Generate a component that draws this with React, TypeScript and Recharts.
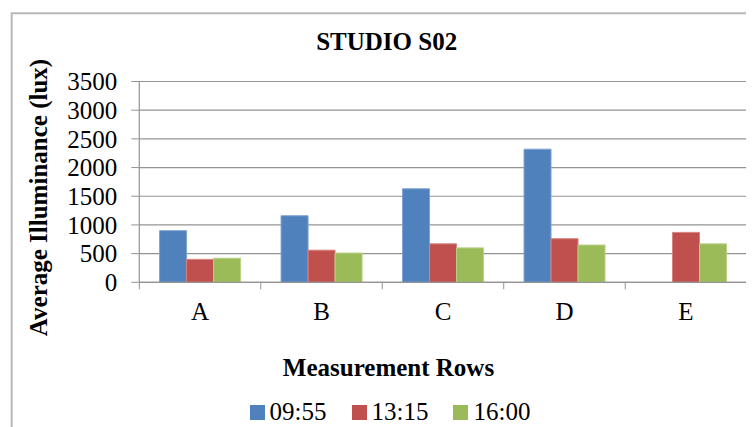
import { Bar, BarChart, CartesianGrid, Legend, XAxis, YAxis } from "recharts"

const rows = ["A", "B", "C", "D", "E"]
const at0955 = [900, 1160, 1630, 2320, null]
const at1315 = [400, 560, 670, 760, 870]
const at1600 = [420, 510, 600, 650, 670]
const yTicks = [0, 500, 1000, 1500, 2000, 2500, 3000, 3500]

const series = [
  { key: "t0955", name: "09:55", color: "#4F81BD", edge: "#7FA3D2" },
  { key: "t1315", name: "13:15", color: "#C0504D", edge: "#D7827F" },
  { key: "t1600", name: "16:00", color: "#9BBB59", edge: "#B9D187" },
]

const data = rows.map((row, i) => ({
  row,
  t0955: at0955[i],
  t1315: at1315[i],
  t1600: at1600[i],
}))

const font = '"Liberation Serif", "Times New Roman", serif'
const axisGrey = "#939393"

// category label in the middle, tick marks on the band edges
const RowTick = (props: any) => {
  const { x, y, payload, index } = props
  const half = payload.offset ?? 0
  const last = index === rows.length - 1
  return (
    <g>
      <line x1={x - half} y1={y} x2={x - half} y2={y + 7} stroke={axisGrey} />
      {last && <line x1={x + half} y1={y} x2={x + half} y2={y + 7} stroke={axisGrey} />}
      <text x={x} y={y + 38} textAnchor="middle" fontSize={25} fill="#000" fontFamily={font}>
        {payload.value}
      </text>
    </g>
  )
}

const LegendRow = ({ payload }: any) => (
  <div
    style={{
      display: "flex",
      justifyContent: "center",
      alignItems: "center",
      gap: 25,
      height: 30,
      fontFamily: font,
      fontSize: 25,
      color: "#000",
    }}
  >
    {(payload ?? []).map((p: any) => (
      <div key={p.value} style={{ display: "flex", alignItems: "center" }}>
        <span style={{ display: "inline-block", width: 15, height: 15, background: p.color, marginRight: 5 }} />
        <span>{p.value}</span>
      </div>
    ))}
  </div>
)

const App = () => {
  return (
    <BarChart
      width={746}
      height={419}
      data={data}
      margin={{ top: 73.5, right: 7.3, bottom: 0, left: 0 }}
      barCategoryGap="16.7%"
      barGap={0}
      style={{ fontFamily: font }}
    >
      <path d="M3.7 419 V5.3 H746" fill="none" stroke="#b8b8b8" strokeWidth={2} />
      <CartesianGrid vertical={false} stroke={axisGrey} strokeWidth={1.2} />
      <XAxis
        dataKey="row"
        height={114.7}
        interval={0}
        tickLine={false}
        tickSize={0}
        tickMargin={0}
        axisLine={{ stroke: axisGrey, strokeWidth: 1.2 }}
        tick={<RowTick />}
      />
      <YAxis
        width={131.3}
        domain={[0, 3500]}
        ticks={yTicks}
        interval={0}
        tickSize={8}
        tickMargin={14}
        axisLine={{ stroke: axisGrey, strokeWidth: 1.2 }}
        tickLine={{ stroke: axisGrey }}
        tick={{ fill: "#000", fontSize: 25, fontFamily: font }}
      />
      {series.map((s) => (
        <Bar
          key={s.key}
          dataKey={s.key}
          name={s.name}
          fill={s.color}
          stroke={s.edge}
          strokeWidth={1}
          isAnimationActive={false}
        />
      ))}
      <Legend
        verticalAlign="bottom"
        height={30}
        content={<LegendRow />}
        wrapperStyle={{ left: 9, width: 746, bottom: 0 }}
      />
      <text x={378.7} y={42} textAnchor="middle" fontSize={25} fontWeight="bold" fontFamily={font} fill="#000">
        STUDIO S02
      </text>
      <text
        x={38.7}
        y={189.5}
        transform="rotate(-90 38.7 189.5)"
        textAnchor="middle"
        fontSize={25}
        fontWeight="bold"
        fontFamily={font}
        fill="#000"
      >
        Average Illuminance (lux)
      </text>
      <text x={380.5} y={368} textAnchor="middle" fontSize={25} fontWeight="bold" fontFamily={font} fill="#000">
        Measurement Rows
      </text>
    </BarChart>
  )
}

export default App
